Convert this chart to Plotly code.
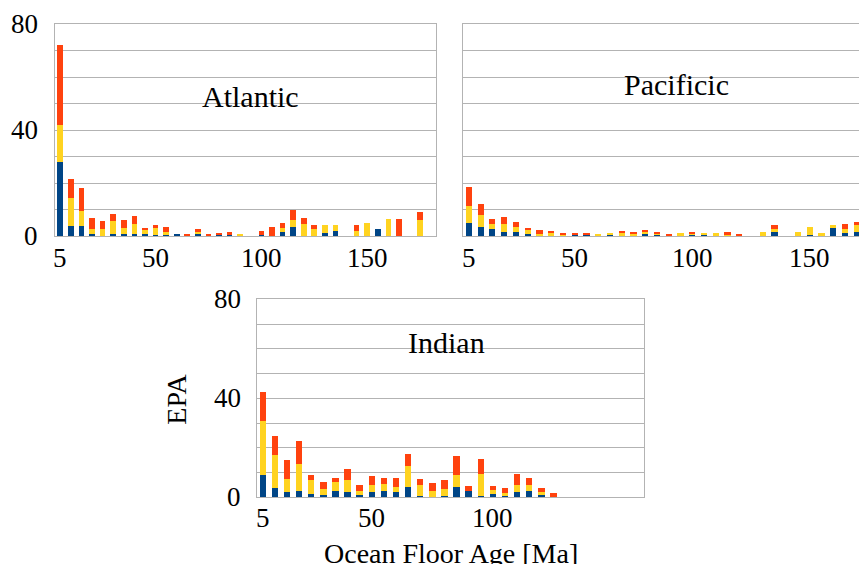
import plotly.graph_objects as go

# Ocean floor age categories (Ma)
ages_atl = [5 * (i + 1) for i in range(36)]
ages_pac = [5 * (i + 1) for i in range(36)]
ages_ind = [5 * (i + 1) for i in range(32)]

atl_blue = [28, 3.8, 3.8, 0.8, 0, 0.8, 0.8, 0.8, 0.8, 0.4, 0.4, 0.8, 0, 0.8, 0, 0.4, 0.4, 0.3,
            0, 0.4, 0, 1.5, 3.4, 0, 0, 1.1, 1.9, 0, 0, 0, 2.6, 0, 0, 0, 0, 0]
atl_yellow = [14, 10.5, 5.6, 1.7, 2.5, 4.9, 2.2, 3.7, 1.5, 2.6, 1.1, 0, 0, 0.7, 0.3, 0, 0, 0.5,
              0, 0, 0, 1.5, 2.6, 4.5, 2.6, 3.1, 2.3, 0, 1.9, 4.9, 0, 6.4, 0, 0, 6.0, 0]
atl_orange = [30, 7.2, 8.7, 4.3, 3.2, 2.6, 3.0, 3.0, 0.7, 1.2, 1.9, 0, 0.8, 1.1, 0.5, 0.7, 1.1, 0,
              0, 1.5, 3.4, 1.9, 3.8, 2.3, 1.6, 0, 0, 0, 2.3, 0, 0, 0, 6.4, 0, 3.1, 0]

pac_blue = [5.0, 3.4, 2.6, 1.5, 1.5, 0.8, 0, 0, 0, 0.4, 0.3, 0, 0.4, 0, 0, 0.8, 0.6, 0,
            0, 0.4, 0.4, 0, 0, 0, 0, 0, 1.5, 0, 0, 0.4, 0, 3.0, 1.1, 1.5, 0, 0]
pac_yellow = [6.3, 4.5, 1.9, 3.0, 1.9, 1.5, 0.8, 1.1, 0.4, 0, 0, 0.75, 0.4, 1.5, 1.1, 0.8, 0.2, 0,
              1.1, 0.4, 0.7, 1.1, 0.75, 0.3, 0, 1.5, 1.1, 0, 1.5, 3.0, 1.1, 1.2, 1.5, 2.7, 0, 0]
pac_orange = [7.3, 4.3, 1.9, 2.7, 1.9, 0.4, 1.5, 0.8, 0.4, 0.4, 0.8, 0, 0, 0.4, 0.4, 0.8, 0.4, 0.9,
              0, 0.7, 0, 0, 0.75, 0.5, 0, 0, 1.6, 0, 0, 0, 0, 0, 1.9, 1.1, 0, 0]

ind_blue = [9.0, 3.8, 2.2, 2.6, 1.35, 1.0, 2.6, 2.2, 1.0, 2.2, 2.6, 2.2, 4.2, 0.5, 0.2, 0.5,
            4.2, 2.6, 0.5, 1.35, 0.5, 2.2, 2.6, 0.95, 0.2, 0, 0, 0, 0, 0, 0, 0]
ind_yellow = [21.8, 13.3, 5.2, 10.9, 5.7, 2.4, 3.6, 4.8, 1.6, 2.8, 2.8, 2.0, 8.5, 4.5, 2.4, 2.9,
              4.8, 0, 8.9, 1.6, 1.2, 2.8, 2.4, 1.2, 0, 0, 0, 0, 0, 0, 0, 0]
ind_orange = [11.8, 7.7, 7.7, 9.3, 2.0, 2.8, 1.6, 4.4, 2.4, 3.6, 2.3, 3.6, 4.8, 2.4, 3.2, 3.6,
              7.7, 2.0, 6.1, 1.6, 2.0, 4.4, 2.8, 1.6, 1.5, 0, 0, 0, 0, 0, 0, 0]

x_tick_vals = [5, 50, 100, 150]
x_tick_text = ["5", "50", "100", "150"]
x_tick_vals_ind = [5, 50, 100]
x_tick_text_ind = ["5", "50", "100"]
y_grid_vals = [0, 10, 20, 30, 40, 50, 60, 70, 80]
y_label_vals = [0, 40, 80]
y_label_text = ["0", "40", "80"]

panel_titles = ["Atlantic", "Pacificic", "Indian"]
x_title = "Ocean Floor Age [Ma]"
y_title = "EPA"

BLUE = "#004586"
YELLOW = "#ffd320"
ORANGE = "#ff420e"
GRID = "#b3b3b3"
FONT = "Liberation Serif"

W, H = 867, 564
OFF = 8  # page body margin offset

fig = go.Figure()

panels = [
    (ages_atl, atl_blue, atl_yellow, atl_orange, "x", "y"),
    (ages_pac, pac_blue, pac_yellow, pac_orange, "x2", "y2"),
    (ages_ind, ind_blue, ind_yellow, ind_orange, "x3", "y3"),
]
for ages, b, yv, o, xa, ya in panels:
    for vals, col in ((b, BLUE), (yv, YELLOW), (o, ORANGE)):
        fig.add_trace(go.Bar(x=ages, y=vals, marker=dict(color=col, line=dict(width=0)),
                             xaxis=xa, yaxis=ya, showlegend=False))


def px_x(a, b):
    return [(a - OFF) / W, (b - OFF) / W]


def px_y(top, bottom):
    return [(H - (bottom - OFF)) / H, (H - (top - OFF)) / H]


def pos(x, y):
    return (x - OFF) / W, (H - (y - OFF)) / H


xcommon = dict(showgrid=False, zeroline=False, showline=True, linecolor=GRID, linewidth=1,
               ticks="", showticklabels=False, fixedrange=True, automargin=False)
ycommon = dict(range=[0, 80], tickvals=y_grid_vals, showgrid=True, gridcolor=GRID, gridwidth=1,
               zeroline=False, showline=True, linecolor=GRID, linewidth=1, ticks="",
               showticklabels=False, fixedrange=True, automargin=False)

fig.update_layout(
    width=W, height=H, margin=dict(l=0, r=0, t=0, b=0),
    paper_bgcolor="white", plot_bgcolor="white",
    font=dict(family=FONT, color="black"),
    barmode="stack", bargap=0.47,
    xaxis=dict(domain=px_x(55, 436), range=[2.5, 182.5], anchor="y", mirror=True, **xcommon),
    yaxis=dict(domain=px_y(24, 236), anchor="x", mirror=True, **ycommon),
    xaxis2=dict(domain=px_x(463, 867), range=[2.5, 174.4], anchor="y2", mirror=True, **xcommon),
    yaxis2=dict(domain=px_y(24, 236), anchor="x2", mirror=False, **ycommon),
    xaxis3=dict(domain=px_x(256.7, 644.3), range=[2.5, 162.5], anchor="y3", mirror=True, **xcommon),
    yaxis3=dict(domain=px_y(299.3, 497.3), anchor="x3", mirror=True, **ycommon),
)

tick_font = dict(family=FONT, size=27, color="black")

# x tick labels (drawn as text at the axis values)
for xref, vals, texts, ylab in [
    ("x", x_tick_vals, x_tick_text, 257.5),
    ("x2", x_tick_vals, x_tick_text, 257.5),
    ("x3", x_tick_vals_ind, x_tick_text_ind, 518),
]:
    for v, t in zip(vals, texts):
        fig.add_annotation(text=t, x=v, y=pos(0, ylab)[1], xref=xref, yref="paper",
                           showarrow=False, font=tick_font, xanchor="center", yanchor="middle")

# y tick labels
for yref, right_px in [("y", 39), ("y3", 241.7)]:
    for v, t in zip(y_label_vals, y_label_text):
        fig.add_annotation(text=t, x=pos(right_px, 0)[0], y=v, xref="paper", yref=yref,
                           showarrow=False, font=tick_font, xanchor="right", yanchor="middle",
                           borderpad=0)

ann_font = dict(family=FONT, size=30, color="black")
lab_font = dict(family=FONT, size=28, color="black")
for text, (ax, ay), font, ang in [
    (panel_titles[0], pos(250.7, 96), ann_font, 0),
    (panel_titles[1], pos(676.7, 85), ann_font, 0),
    (panel_titles[2], pos(446.7, 342.7), ann_font, 0),
    (x_title, pos(451, 553), lab_font, 0),
    (y_title, pos(176.7, 399), lab_font, -90),
]:
    fig.add_annotation(text=text, x=ax, y=ay, xref="paper", yref="paper", showarrow=False,
                       font=font, xanchor="center", yanchor="middle", textangle=ang)

fig.write_html("out.html")
